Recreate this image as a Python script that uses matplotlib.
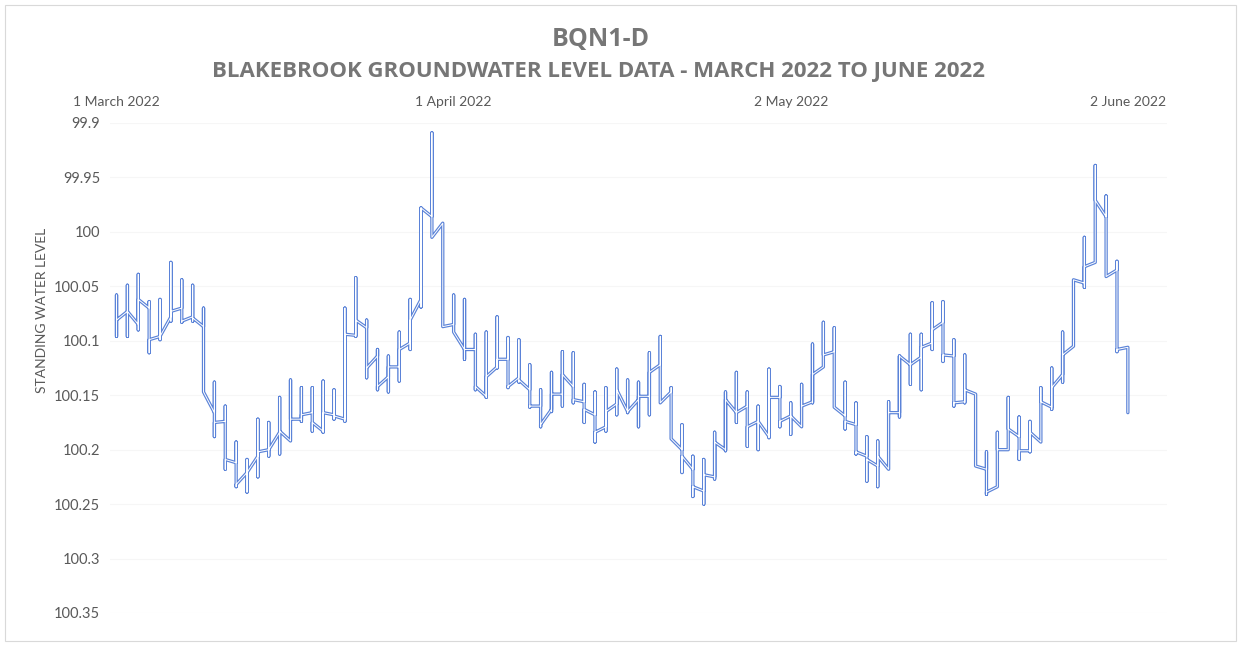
import matplotlib
matplotlib.use('Agg')
import matplotlib.pyplot as plt
import matplotlib.patheffects as pe
import matplotlib.patches as mpatches
import pandas as pd

# ------------------------------------------------------------
# Daily readings (Excel date axis stacks all readings of a day
# on one x position -> vertical span from min to max)
# ------------------------------------------------------------
dates = pd.date_range('2022-03-01', '2022-06-02', freq='D')

level_open = [
    100.081, 100.073, 100.085, 100.070, 100.096, 100.078, 100.070, 100.078, 100.087, 100.166,
    100.174, 100.212, 100.221, 100.206, 100.200, 100.184, 100.192, 100.172, 100.166, 100.183,
    100.168, 100.172, 100.095, 100.088, 100.114, 100.133, 100.124, 100.102, 100.062, 99.986,
    99.992, 100.085, 100.108, 100.108, 100.151, 100.124, 100.117, 100.134, 100.145, 100.160,
    100.163, 100.149, 100.142, 100.156, 100.168, 100.179, 100.158, 100.165, 100.154, 100.151,
    100.122, 100.147, 100.200, 100.218, 100.238, 100.225, 100.200, 100.166, 100.160, 100.174,
    100.188, 100.152, 100.169, 100.179, 100.156, 100.124, 100.110, 100.169, 100.177, 100.206,
    100.215, 100.218, 100.166, 100.122, 100.115, 100.102, 100.083, 100.114, 100.156, 100.149,
    100.218, 100.234, 100.200, 100.188, 100.201, 100.193, 100.161, 100.131, 100.105, 100.047,
    100.028, 99.986, 100.035, 100.106,
]
level_close = [
    100.081, 100.073, 100.062, 100.099, 100.096, 100.073, 100.082, 100.079, 100.147, 100.175,
    100.209, 100.232, 100.221, 100.202, 100.200, 100.183, 100.172, 100.168, 100.175, 100.166,
    100.169, 100.094, 100.081, 100.125, 100.142, 100.124, 100.108, 100.081, 99.978, 100.005,
    100.087, 100.092, 100.108, 100.142, 100.133, 100.117, 100.142, 100.136, 100.160, 100.177,
    100.149, 100.131, 100.154, 100.163, 100.184, 100.165, 100.145, 100.165, 100.151, 100.129,
    100.157, 100.190, 100.206, 100.234, 100.223, 100.193, 100.154, 100.166, 100.179, 100.174,
    100.152, 100.174, 100.169, 100.160, 100.131, 100.113, 100.161, 100.174, 100.202, 100.209,
    100.206, 100.166, 100.114, 100.122, 100.106, 100.090, 100.113, 100.157, 100.145, 100.215,
    100.239, 100.200, 100.181, 100.201, 100.184, 100.156, 100.143, 100.113, 100.044, 100.032,
    99.971, 100.041, 100.108, 100.166,
]
level_min = [
    100.058, 100.049, 100.039, 100.064, 100.062, 100.028, 100.044, 100.049, 100.070, 100.138,
    100.160, 100.193, 100.209, 100.172, 100.175, 100.152, 100.136, 100.143, 100.143, 100.137,
    100.145, 100.070, 100.042, 100.081, 100.108, 100.114, 100.092, 100.062, 99.978, 99.909,
    99.992, 100.058, 100.062, 100.094, 100.092, 100.078, 100.097, 100.099, 100.122, 100.145,
    100.129, 100.110, 100.111, 100.140, 100.147, 100.143, 100.126, 100.136, 100.138, 100.111,
    100.096, 100.143, 100.177, 100.206, 100.209, 100.184, 100.147, 100.129, 100.147, 100.160,
    100.126, 100.142, 100.157, 100.140, 100.103, 100.083, 100.088, 100.138, 100.157, 100.188,
    100.192, 100.156, 100.114, 100.094, 100.094, 100.065, 100.064, 100.099, 100.113, 100.149,
    100.202, 100.184, 100.152, 100.170, 100.174, 100.143, 100.125, 100.092, 100.044, 100.005,
    99.939, 99.967, 100.027, 100.106,
]
level_max = [
    100.096, 100.096, 100.090, 100.111, 100.099, 100.082, 100.083, 100.082, 100.147, 100.188,
    100.218, 100.234, 100.239, 100.225, 100.206, 100.204, 100.192, 100.174, 100.183, 100.184,
    100.172, 100.174, 100.096, 100.134, 100.145, 100.147, 100.137, 100.108, 100.069, 100.005,
    100.087, 100.092, 100.117, 100.145, 100.152, 100.125, 100.143, 100.138, 100.161, 100.179,
    100.165, 100.160, 100.157, 100.175, 100.193, 100.183, 100.168, 100.166, 100.179, 100.168,
    100.157, 100.190, 100.221, 100.243, 100.250, 100.227, 100.201, 100.175, 100.197, 100.200,
    100.189, 100.179, 100.186, 100.179, 100.157, 100.124, 100.161, 100.181, 100.204, 100.229,
    100.234, 100.218, 100.170, 100.140, 100.145, 100.108, 100.119, 100.160, 100.157, 100.215,
    100.241, 100.234, 100.200, 100.209, 100.202, 100.193, 100.163, 100.138, 100.105, 100.051,
    100.028, 100.041, 100.110, 100.166,
]

y_ticks = [99.9, 99.95, 100.0, 100.05, 100.1, 100.15, 100.2, 100.25, 100.3, 100.35]
y_tick_labels = ['99.9', '99.95', '100', '100.05', '100.1', '100.15', '100.2', '100.25', '100.3', '100.35']
x_tick_dates = pd.to_datetime(['2022-03-01', '2022-04-01', '2022-05-02', '2022-06-02'])
x_tick_labels = ['1 March 2022', '1 April 2022', '2 May 2022', '2 June 2022']

plt.rcParams['font.family'] = ['Lato', 'DejaVu Sans']
text_grey = '#595959'
title_grey = '#767676'
line_blue = '#5b83d8'

W, H = 1242, 645
fig = plt.figure(figsize=(W / 100, H / 100), dpi=100)
ax = fig.add_axes([110 / W, 1 - 613 / H, (1167 - 110) / W, (613 - 123) / H])

# build one continuous path: open -> min -> max -> close for each day
xs, ys = [], []
for d, o, lo, hi, c in zip(dates, level_open, level_min, level_max, level_close):
    xs += [d, d, d, d]
    ys += [o, lo, hi, c]

ax.plot(xs, ys, color='white', lw=0.7, solid_joinstyle='round', solid_capstyle='round',
        path_effects=[pe.Stroke(linewidth=2.4, foreground=line_blue), pe.Normal()], zorder=3)

ax.set_ylim(100.35, 99.9)
ax.set_yticks(y_ticks)
ax.set_yticklabels(y_tick_labels)
ax.set_xlim(dates[0] - pd.Timedelta(days=0.6), dates[0] + pd.Timedelta(days=96.6))
ax.set_xticks(x_tick_dates)
ax.set_xticklabels(x_tick_labels)
ax.xaxis.tick_top()
ax.tick_params(axis='x', length=0, pad=11, labelsize=10, labelcolor=text_grey)
ax.tick_params(axis='y', length=0, pad=7, labelsize=10.5, labelcolor=text_grey)
ax.grid(axis='y', color='#f6f6f6', lw=0.8)
for s in ax.spines.values():
    s.set_visible(False)

fig.text(42 / W, 1 - 310 / H, 'STANDING WATER LEVEL', rotation=90, ha='center', va='center',
         fontsize=10, color=text_grey)
fig.text(601 / W, 1 - 39 / H, 'BQN1-D', ha='center', va='center', fontsize=18,
         fontweight='bold', color=title_grey, family=['Open Sans', 'DejaVu Sans'])
fig.text(598 / W, 1 - 72 / H, 'BLAKEBROOK GROUNDWATER LEVEL DATA - MARCH 2022 TO JUNE 2022',
         ha='center', va='center', fontsize=16, fontweight='bold', color=title_grey,
         family=['Open Sans', 'DejaVu Sans'])

# chart-area border
fig.patches.append(mpatches.Rectangle((5 / W, 4 / H), 1231 / W, 636 / H, transform=fig.transFigure,
                                      fill=False, edgecolor='#d9d9d9', lw=0.8))

fig.savefig('out.png', dpi=100)
